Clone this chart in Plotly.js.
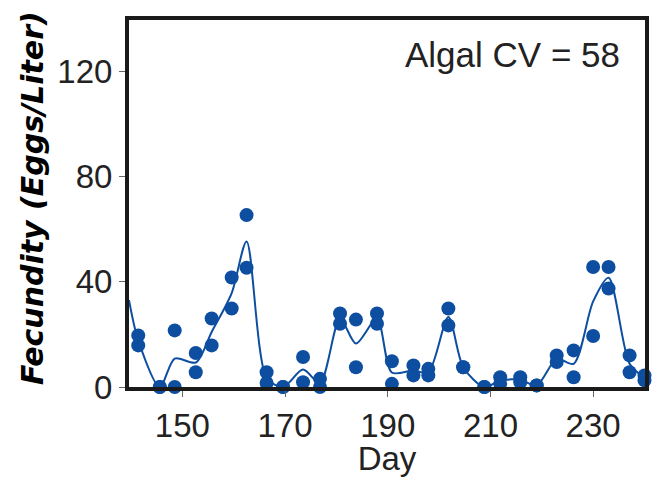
<!DOCTYPE html>
<html>
<head>
<meta charset="utf-8">
<script src="https://cdn.plot.ly/plotly-3.0.1.min.js"></script>
<style>html,body{margin:0;padding:0;background:#fff;}#chart{width:654px;height:477px;}</style>
</head>
<body>
<div id="chart"></div>
<script>
// Sampling days (two replicate samples per day)
const sampleDays = [141.4,145.6,148.5,152.6,155.7,159.6,162.5,166.4,169.6,173.5,176.8,180.7,183.8,187.9,190.8,195.0,197.9,201.8,204.7,208.8,211.9,215.8,219.0,222.9,226.2,230.0,233.0,237.1,240.0];
const repA = [19.6,0,21.5,12.9,26.0,41.6,65.3,5.6,0,11.4,3.1,27.9,25.6,27.9,9.8,8.2,6.9,29.8,7.5,0,3.7,3.7,0.6,12.0,13.9,45.6,45.6,12.0,4.4];
const repB = [15.8,0,0,5.6,15.8,29.8,45.3,1.5,0,1.8,0,24.0,7.5,24.0,1.2,4.4,4.4,23.4,7.5,0,1.2,1.8,0.6,9.5,3.7,19.4,37.4,5.6,2.5];
// Fitted curve
const curveDays = [139.6,141.4,145.6,148.5,152.6,155.7,159.6,162.5,166.4,169.6,173.5,176.8,180.7,183.8,187.9,190.8,195.0,197.9,201.8,204.7,208.8,211.9,215.8,219.0,222.9,226.2,230.0,233.0,237.1,240.0];
const curveVals = [33,17.7,0,10.8,9.3,20.9,35.7,55.3,3.5,0,6.6,1.5,26,16.5,26,5.5,6.3,5.6,26.6,7.5,0,2.4,2.7,0.6,10.7,8.8,32.5,41.5,8.8,3.5];
const xTicks = [150,170,190,210,230];
const yTicks = [0,40,80,120];
const annotationText = "Algal CV = 58";
const xTitle = "Day";
const yTitle = "Fecundity (Eggs/Liter)";

const blue = '#0d4ea1';
const ptsX = sampleDays.concat(sampleDays);
const ptsY = repA.concat(repB);

const traces = [
  {x: curveDays, y: curveVals, type: 'scatter', mode: 'lines',
   line: {color: blue, width: 2, shape: 'spline', smoothing: 0.8}, hoverinfo: 'skip'},
  {x: ptsX, y: ptsY, type: 'scatter', mode: 'markers', cliponaxis: false,
   marker: {color: blue, size: 14, line: {width: 0}}}
];

const tickFont = {family: 'Liberation Sans, Arial, sans-serif', size: 33, color: '#222'};
const layout = {
  width: 654, height: 477,
  margin: {l: 129, r: 9, t: 20, b: 90},
  paper_bgcolor: '#fff', plot_bgcolor: '#fff',
  showlegend: false,
  xaxis: {range: [139.6, 240.1], tickvals: xTicks, ticktext: xTicks.map(String),
    ticks: 'outside', ticklen: 6, tickwidth: 1, tickcolor: '#666',
    showline: true, mirror: true, linewidth: 4, linecolor: '#1a1a1a',
    showgrid: false, zeroline: false, tickfont: tickFont,
    title: {text: xTitle, font: tickFont, standoff: 8}},
  yaxis: {range: [0, 139.4], tickvals: yTicks, ticktext: yTicks.map(String),
    ticks: 'outside', ticklen: 6, tickwidth: 1, tickcolor: '#666',
    showline: true, mirror: true, linewidth: 4, linecolor: '#1a1a1a',
    showgrid: false, zeroline: false, tickfont: tickFont},
  annotations: [
    {text: annotationText, xref: 'paper', yref: 'paper', x: 0.955, y: 0.905,
     xanchor: 'right', yanchor: 'middle', showarrow: false,
     font: {family: 'Liberation Sans, Arial, sans-serif', size: 35, color: '#222'}},
    {text: yTitle, xref: 'paper', yref: 'paper', x: -0.186, y: 0.515,
     xanchor: 'center', yanchor: 'middle', textangle: -90, showarrow: false,
     font: {family: 'DejaVu Sans, sans-serif', size: 30, color: '#000', weight: 'bold', style: 'italic'}}
  ]
};
Plotly.newPlot('chart', traces, layout, {displayModeBar: false, staticPlot: true});
</script>
</body>
</html>
